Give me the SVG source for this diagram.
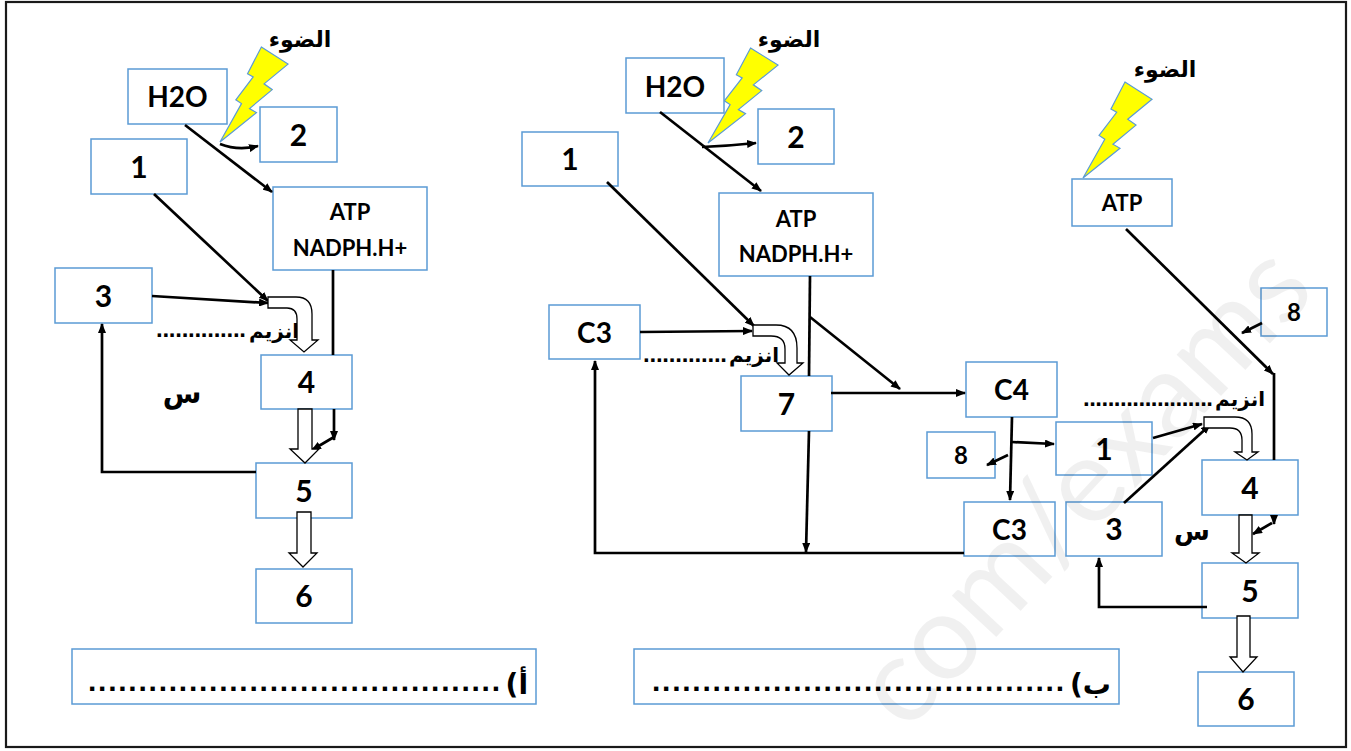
<svg xmlns="http://www.w3.org/2000/svg" width="1351" height="751" viewBox="0 0 1351 751">
<style>
.box{fill:#fff;stroke:#5b9bd5;stroke-width:1.5}
.num{font-family:Lato,"Liberation Sans",sans-serif;font-weight:bold;font-size:30px;text-anchor:middle;fill:#000}
.h2o{font-size:28px}
.sm{font-size:22px}
.s8{font-size:24px}
.ar{font-family:"DejaVu Sans","Noto Sans",sans-serif;font-weight:bold;fill:#000;text-anchor:middle}
.dots{font-family:"Liberation Sans",Lato,sans-serif;font-weight:bold;fill:#000}
.ln{fill:none;stroke:#000;stroke-width:2.7}
.ln.a{marker-end:url(#ah)}
.hol{fill:#fff;stroke:#000;stroke-width:1.3;stroke-linejoin:miter}
.bolt{fill:#ffff00;stroke:#5b9bd5;stroke-width:1.2}
</style>
<defs>
<marker id="ah" viewBox="0 0 10 8" refX="9" refY="4" markerWidth="10" markerHeight="8" markerUnits="userSpaceOnUse" orient="auto">
<path d="M0,0 L10,4 L0,8 z" fill="#000"/>
</marker>
<path id="boltShape" vector-effect="non-scaling-stroke" d="M60.8,0 L100,18 L64.8,38.8 L76.8,44.9 L43.4,64.8 L53.6,69.1 L0,100 L31.6,59.6 L23.3,55.6 L48.8,31.5 L40.5,28.1 Z"/>
</defs>
<rect x="0" y="0" width="1351" height="751" fill="#fff"/>
<rect x="6" y="2" width="1340" height="745" fill="none" stroke="#1a1a1a" stroke-width="2.2"/>

<!-- lightning bolts -->
<g id="light-a">
<use href="#boltShape" class="bolt" transform="translate(220,47) scale(0.68,0.95)"/>
<text class="ar" x="300" y="47" font-size="22">الضوء</text>
</g>
<g id="light-b">
<use href="#boltShape" class="bolt" transform="translate(708,48) scale(0.70,0.95)"/>
<text class="ar" x="789" y="47" font-size="22">الضوء</text>
</g>
<g id="light-c">
<use href="#boltShape" class="bolt" transform="translate(1083,82) scale(0.69,0.96)"/>
<text class="ar" x="1165" y="77" font-size="22">الضوء</text>
</g>

<!-- left diagram nodes -->
<g id="a-h2o"><rect class="box" x="128" y="69" width="99" height="55"/><text class="num h2o" x="177.5" y="107">H2O</text></g>
<g id="a-2"><rect class="box" x="260" y="107" width="77" height="55"/><text class="num" x="298.5" y="145.5">2</text></g>
<g id="a-1"><rect class="box" x="91" y="139" width="96" height="55"/><text class="num" x="139" y="177.5">1</text></g>
<g id="a-atp"><rect class="box" x="273" y="187" width="154" height="83"/><text class="num sm" x="350" y="220">ATP</text><text class="num sm" x="350" y="256">NADPH.H+</text></g>
<g id="a-3"><rect class="box" x="55" y="268" width="97" height="55"/><text class="num" x="103.5" y="306.5">3</text></g>
<g id="a-4"><rect class="box" x="261" y="355" width="91" height="54"/><text class="num" x="306.5" y="393">4</text></g>
<g id="a-5"><rect class="box" x="256" y="463" width="96" height="55"/><text class="num" x="304" y="501.5">5</text></g>
<g id="a-6"><rect class="box" x="256" y="569" width="96" height="54"/><text class="num" x="304" y="607">6</text></g>
<g id="a-enz"><text class="dots" x="156" y="337" font-size="24" textLength="90" lengthAdjust="spacing">..............</text><text class="ar" x="274" y="338" font-size="20">انزيم</text></g>
<g id="a-sin"><text class="ar" x="182" y="403" font-size="28">س</text></g>
<g id="a-ans"><rect class="box" x="72" y="649" width="464" height="55"/><text class="dots" x="88" y="691" font-size="30" textLength="412" lengthAdjust="spacing">.........................................</text><text class="ar" x="528" y="694" font-size="28" style="text-anchor:end">(أ</text></g>

<!-- middle diagram nodes -->
<g id="b-h2o"><rect class="box" x="626" y="58" width="98" height="55"/><text class="num h2o" x="675" y="96.5">H2O</text></g>
<g id="b-2"><rect class="box" x="758" y="109" width="76" height="55"/><text class="num" x="796" y="147.5">2</text></g>
<g id="b-1"><rect class="box" x="522" y="132" width="96" height="54"/><text class="num" x="570" y="170">1</text></g>
<g id="b-atp"><rect class="box" x="719" y="193" width="154" height="83"/><text class="num sm" x="796" y="227">ATP</text><text class="num sm" x="796" y="262">NADPH.H+</text></g>
<g id="b-c3"><rect class="box" x="549" y="305" width="91" height="54"/><text class="num h2o" x="594.5" y="343">C3</text></g>
<g id="b-7"><rect class="box" x="741" y="376" width="91" height="55"/><text class="num" x="786.5" y="414.5">7</text></g>
<g id="b-c4"><rect class="box" x="966" y="362" width="91" height="55"/><text class="num h2o" x="1011.5" y="400">C4</text></g>
<g id="b-8"><rect class="box" x="927" y="432" width="68" height="46"/><text class="num s8" x="961" y="464">8</text></g>
<g id="b-c3b"><rect class="box" x="964" y="502" width="91" height="54"/><text class="num h2o" x="1009.5" y="540">C3</text></g>
<g id="b-enz"><text class="dots" x="643" y="362" font-size="24" textLength="84" lengthAdjust="spacing">.............</text><text class="ar" x="754" y="362" font-size="20">انزيم</text></g>
<g id="b-ans"><rect class="box" x="634" y="649" width="485" height="55"/><text class="dots" x="652" y="691" font-size="30" textLength="412" lengthAdjust="spacing">.........................................</text><text class="ar" x="1111" y="694" font-size="28" style="text-anchor:end">(ب</text></g>

<!-- right diagram nodes -->
<g id="c-atp"><rect class="box" x="1072" y="179" width="100" height="47"/><text class="num sm" x="1122" y="210.5">ATP</text></g>
<g id="c-8"><rect class="box" x="1261" y="288" width="66" height="48"/><text class="num s8" x="1294" y="320.5">8</text></g>
<g id="c-1"><rect class="box" x="1056" y="422" width="96" height="53"/><text class="num" x="1104" y="459.5">1</text></g>
<g id="c-3"><rect class="box" x="1066" y="502" width="96" height="54"/><text class="num" x="1114" y="540">3</text></g>
<g id="c-4"><rect class="box" x="1202" y="460" width="96" height="55"/><text class="num" x="1250" y="498.5">4</text></g>
<g id="c-5"><rect class="box" x="1202" y="563" width="96" height="55"/><text class="num" x="1250" y="601.5">5</text></g>
<g id="c-6"><rect class="box" x="1198" y="672" width="96" height="54"/><text class="num" x="1246" y="710">6</text></g>
<g id="c-enz"><text class="dots" x="1083" y="406" font-size="24" textLength="130" lengthAdjust="spacing">.....................</text><text class="ar" x="1240" y="406" font-size="20">انزيم</text></g>
<g id="c-sin"><text class="ar" x="1192" y="540" font-size="26">س</text></g>

<!-- connectors -->
<g id="connectors">
<!-- left -->
<path class="ln a" d="M185,125 L272,192"/>
<path class="ln a" d="M220,144 Q238,151 258,146"/>
<path class="ln a" d="M154,194 L268,301"/>
<path class="ln a" d="M152,296 L268,303"/>
<path class="ln" d="M333,270 L333,355"/>
<path class="ln a" d="M334,409 L334,440"/>
<path class="ln a" d="M334,437 L312,450"/>
<path class="ln a" d="M256,472 L102,472 L102,324"/>
<path class="hol" d="M268,297 L296,297 Q312,297 312,314 L312,340 L318,340 L304,352 L290,340 L297,340 L297,319 Q297,308 287,308 L268,308 Z"/>
<path class="hol" d="M298,409 L298,449 L290,449 L305,463 L319,449 L312,449 L312,409 Z"/>
<path class="hol" d="M297,512 L297,553 L289,553 L303,567 L317,553 L311,553 L311,512 Z"/>
<!-- middle -->
<path class="ln a" d="M660,112 L761,191"/>
<path class="ln a" d="M702,147 Q728,146 756,143"/>
<path class="ln a" d="M607,182 L754,326"/>
<path class="ln a" d="M640,332 L752,331"/>
<path class="ln" d="M810,276 L809,376"/>
<path class="ln a" d="M809,431 L806,552"/>
<path class="ln a" d="M810,317 L900,389"/>
<path class="ln a" d="M831,393 L965,393"/>
<path class="ln a" d="M1012,417 L1010,500"/>
<path class="ln a" d="M1012,442 L1054,444"/>
<path class="ln a" d="M1008,455 L987,465"/>
<path class="ln a" d="M964,553 L595,553 L595,361"/>
<path class="hol" d="M753,325 L776,325 Q797,325 797,348 L797,363 L803,363 L789,375 L777,363 L785,363 L785,349 Q785,336 771,336 L753,336 Z"/>
<!-- right -->
<path class="ln a" d="M1126,229 L1273,374"/>
<path class="ln" d="M1274,373 L1274,460"/>
<path class="ln a" d="M1274,515 L1274,524"/>
<path class="ln a" d="M1272,523 L1253,534"/>
<path class="ln a" d="M1262,323 L1242,333"/>
<path class="ln a" d="M1153,438 L1202,424"/>
<path class="ln a" d="M1124,503 L1210,425"/>
<path class="ln a" d="M1207,607 L1099,607 L1099,558"/>
<path class="hol" d="M1204,417 L1235,417 Q1252,417 1252,434 L1252,452 L1258,452 L1247,460 L1235,452 L1242,452 L1242,440 Q1242,428 1230,428 L1204,428 Z"/>
<path class="hol" d="M1239,515 L1239,553 L1232,553 L1246,563 L1259,553 L1252,553 L1252,515 Z"/>
<path class="hol" d="M1237,616 L1237,657 L1230,657 L1243,672 L1257,657 L1250,657 L1250,616 Z"/>
</g>

<text x="0" y="0" transform="translate(1318,292) rotate(-47)" font-family="Lato,'Liberation Sans',sans-serif" font-size="120" fill="#000" fill-opacity="0.06" text-anchor="end">com/exams</text>
</svg>
